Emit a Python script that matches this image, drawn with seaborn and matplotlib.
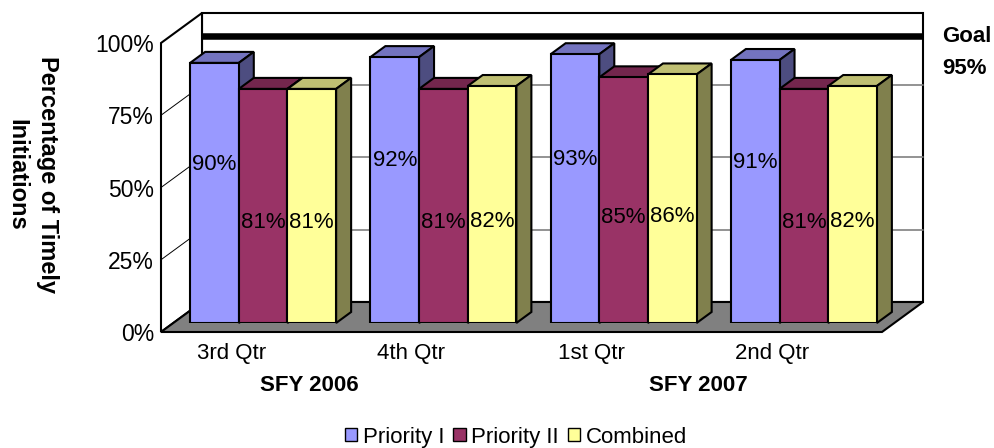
import matplotlib
matplotlib.use("Agg")
import matplotlib.pyplot as plt
from matplotlib.patches import Polygon, Patch
from matplotlib.transforms import ScaledTranslation
import pandas as pd
import seaborn as sns

# data
quarters = ["3rd Qtr", "4th Qtr", "1st Qtr", "2nd Qtr"]
years = ["SFY 2006", "SFY 2007"]
series = ["Priority I", "Priority II", "Combined"]
priority1 = [90, 92, 93, 91]
priority2 = [81, 81, 85, 81]
combined = [81, 82, 86, 82]
goal = 95
goal_wall_level = 92  # where the goal bar sits on the back wall
yticks = [0, 25, 50, 75, 100]

# styles
front_colors = ["#9999FF", "#993366", "#FFFF99"]
top_colors = ["#7373BF", "#73264D", "#BFBF73"]
side_colors = ["#4D4D80", "#4D1933", "#80804D"]
label_frac = [0.61, 0.43, 0.43]
fontSize = 16

df = pd.DataFrame({
    "quarter": quarters * 3,
    "series": sum([[s] * len(quarters) for s in series], []),
    "pct": priority1 + priority2 + combined,
})

sns.set_style("white")
plt.rcParams["font.family"] = ["Liberation Sans", "DejaVu Sans"]
plt.rcParams["text.color"] = "black"
plt.rcParams["xtick.color"] = "black"
plt.rcParams["ytick.color"] = "black"

W, H = 995, 448
fig = plt.figure(figsize=(W / 100, H / 100), dpi=100)


def px_axes(left, top, right, bottom):
    return fig.add_axes([left / W, 1 - bottom / H, (right - left) / W, (bottom - top) / H])


# pixels per category / per percent
sx = 721 / 4
sy = 289 / 100
bx, by = 41 / sx, 30 / sy      # box depth
ddx, ddy = 15 / sx, 11 / sy    # bar depth

# front plane of the box
axf = px_axes(161, 43, 882, 332)
axf.set_zorder(1)
axf.set_xlim(-0.5, 3.5)
axf.set_ylim(0, 100)
x0, x1 = -0.5, 3.5

axf.add_patch(Polygon([(x0 + bx, by), (x1 + bx, by), (x1 + bx, 100 + by), (x0 + bx, 100 + by)],
                      fc="white", ec="black", lw=1.5, clip_on=False, zorder=1))
axf.add_patch(Polygon([(x0, 0), (x0 + bx, by), (x0 + bx, 100 + by), (x0, 100)],
                      fc="white", ec="black", lw=1.5, clip_on=False, zorder=1))
for v in yticks[1:-1]:
    axf.plot([x0 + bx, x1 + bx], [v + by] * 2, color="#808080", lw=1.2, clip_on=False, zorder=1.5)
    axf.plot([x0, x0 + bx], [v, v + by], color="black", lw=0.7, clip_on=False, zorder=1.5)
axf.plot([x0 + bx, x1 + bx], [goal_wall_level + by] * 2, color="black", lw=4.7,
         clip_on=False, zorder=1.6, solid_capstyle="butt")
axf.add_patch(Polygon([(x0, 0), (x1, 0), (x1 + bx, by), (x0 + bx, by)],
                      fc="#808080", ec="black", lw=1.5, clip_on=False, zorder=2))

for s in axf.spines.values():
    s.set_visible(False)
axf.set_yticks(yticks)
axf.set_yticklabels([f"{v}%" for v in yticks], fontsize=16.5)
axf.set_xticks(range(len(quarters)))
axf.set_xticklabels(quarters, fontsize=fontSize)
axf.tick_params(axis="y", length=0, pad=5)
axf.tick_params(axis="x", length=0, pad=8)
for lab in axf.get_xticklabels():
    lab.set_transform(lab.get_transform() + ScaledTranslation(-0.2, 0, fig.dpi_scale_trans))
axf.patch.set_alpha(0)

# plane where the bar fronts stand
ax = px_axes(173, 34, 894, 323)
ax.set_zorder(2)
sns.barplot(data=df, x="quarter", y="pct", hue="series", palette=front_colors,
            width=0.81, saturation=1, edgecolor="black", linewidth=1.5,
            legend=False, ax=ax)
ax.set_xlim(-0.5, 3.5)
ax.set_ylim(0, 100)
ax.axis("off")

bars = []
for k, cont in enumerate(ax.containers):
    for p in cont.patches:
        bars.append((p.get_x(), p, k))
bars.sort(key=lambda b: b[0])
for i, (x, p, k) in enumerate(bars):
    w, h = p.get_width(), p.get_height()
    z = 3 + i * 0.01
    p.set_zorder(z + 0.005)
    ax.add_patch(Polygon([(x, h), (x + ddx, h + ddy), (x + w + ddx, h + ddy), (x + w, h)],
                         fc=top_colors[k], ec="black", lw=1.5, zorder=z, clip_on=False))
    ax.add_patch(Polygon([(x + w, 0), (x + w + ddx, ddy), (x + w + ddx, h + ddy), (x + w, h)],
                         fc=side_colors[k], ec="black", lw=1.5, zorder=z, clip_on=False))
    ax.text(x + w / 2, h * label_frac[k], f"{h:.0f}%", ha="center", va="center",
            fontsize=fontSize, color="black", zorder=10)

# year labels under the quarters
for name, xp in zip(years, [309, 698]):
    fig.text(xp / W, 1 - 385 / H, name, ha="center", va="center",
             fontsize=fontSize, fontweight="bold")

fig.text(942 / W, 1 - 36 / H, "Goal", ha="left", va="center", fontsize=fontSize, fontweight="bold")
fig.text(942 / W, 1 - 68 / H, f"{goal}%", ha="left", va="center", fontsize=fontSize, fontweight="bold")

fig.text(32 / W, 1 - 175 / H, "Percentage of Timely\nInitiations", rotation=270,
         ha="center", va="center", multialignment="center", fontsize=17,
         fontweight="bold", linespacing=1.45)

handles = [Patch(fc=c, ec="black", lw=1) for c in front_colors]
fig.legend(handles, series, loc="center", bbox_to_anchor=(516 / W, 1 - 437 / H), ncol=3,
           frameon=False, fontsize=fontSize, handlelength=0.55, handleheight=0.55,
           handletextpad=0.25, columnspacing=0.4)

fig.savefig("out.png", dpi=100)
